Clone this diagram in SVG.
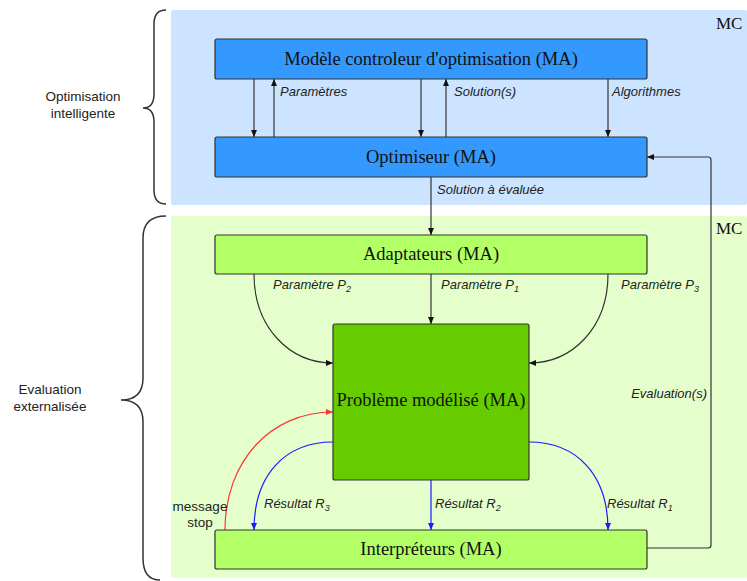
<svg xmlns="http://www.w3.org/2000/svg" width="747" height="581" viewBox="0 0 747 581">
<style>
.node{stroke:#333;stroke-width:1.2}
.nt{font-family:"Liberation Serif",serif;font-size:18.5px;fill:#111;text-anchor:middle}
.lbl{font-family:"Liberation Sans",Arial,sans-serif;font-size:13px;font-style:italic;fill:#222}
.side{font-family:"Liberation Sans",Arial,sans-serif;font-size:13.5px;fill:#222;text-anchor:middle}
.mc{font-family:"Liberation Serif",serif;font-size:17px;fill:#111}
.c{fill:none;stroke:#333;stroke-width:1.2}
.b{fill:none;stroke:#1a1aff;stroke-width:1.2}
.r{fill:none;stroke:#ff3333;stroke-width:1.2}
.brace{fill:none;stroke:#333;stroke-width:1.5}
</style>
<defs>
<marker id="ah" markerWidth="8" markerHeight="8" refX="7" refY="4" orient="auto" markerUnits="userSpaceOnUse"><path d="M0,1 L7,4 L0,7 z" fill="#111"/></marker>
<marker id="ahb" markerWidth="8" markerHeight="8" refX="7" refY="4" orient="auto" markerUnits="userSpaceOnUse"><path d="M0,1 L7,4 L0,7 z" fill="#1a1aff"/></marker>
<marker id="ahr" markerWidth="8" markerHeight="8" refX="7" refY="4" orient="auto" markerUnits="userSpaceOnUse"><path d="M0,1 L7,4 L0,7 z" fill="#ff3333"/></marker>
</defs>
<rect width="747" height="581" fill="#fff"/>
<g id="containers">
<rect x="171" y="10" width="576" height="195" rx="2" fill="#cce4ff"/>
<rect x="171" y="216" width="576" height="362" rx="2" fill="#e5ffcc"/>
<text class="mc" x="716" y="29">MC</text>
<text class="mc" x="716" y="234">MC</text>
</g>
<g id="braces">
<path class="brace" d="M166,10 Q154,10 154,24 L154,94 Q154,108 143,108 Q154,108 154,122 L154,190 Q154,204 166,204"/>
<path class="brace" d="M166,216 Q143,216 143,238 L143,378 Q143,400 121,400 Q143,400 143,422 L143,558 Q143,580 160,580"/>
<text class="side" x="83" y="101">Optimisation</text>
<text class="side" x="83" y="118">intelligente</text>
<text class="side" x="50" y="394">Evaluation</text>
<text class="side" x="50" y="411">externalisée</text>
</g>
<g id="connectors">
<path class="c" d="M254,79 L254,137" marker-end="url(#ah)"/>
<path class="c" d="M274,137 L274,79" marker-end="url(#ah)"/>
<path class="c" d="M421,79 L421,137" marker-end="url(#ah)"/>
<path class="c" d="M446,137 L446,79" marker-end="url(#ah)"/>
<path class="c" d="M608,79 L608,137" marker-end="url(#ah)"/>
<path class="c" d="M431,177 L431,235" marker-end="url(#ah)"/>
<path class="c" d="M647,548 L708,548 Q711,548 711,545 L711,160 Q711,157 708,157 L647,157" marker-end="url(#ah)"/>
<path class="c" d="M254,274 C254,328 290,363 333,363" marker-end="url(#ah)"/>
<path class="c" d="M431,274 L431,324" marker-end="url(#ah)"/>
<path class="c" d="M608,274 C608,328 572,363 529,363" marker-end="url(#ah)"/>
<path class="b" d="M333,442 C285,442 254,475 254,530" marker-end="url(#ahb)"/>
<path class="b" d="M431,480 L431,530" marker-end="url(#ahb)"/>
<path class="b" d="M529,442 C577,442 608,475 608,530" marker-end="url(#ahb)"/>
<path class="r" d="M225,530 C225,462 270,412 333,412" marker-end="url(#ahr)"/>
<text class="lbl" x="280" y="96">Paramètres</text>
<text class="lbl" x="454" y="96">Solution(s)</text>
<text class="lbl" x="612" y="96">Algorithmes</text>
<text class="lbl" x="437" y="194">Solution à évaluée</text>
<text class="lbl" x="273" y="289">Paramètre P<tspan font-size="9" dy="3">2</tspan></text>
<text class="lbl" x="441" y="289">Paramètre P<tspan font-size="9" dy="3">1</tspan></text>
<text class="lbl" x="621" y="289">Paramètre P<tspan font-size="9" dy="3">3</tspan></text>
<text class="lbl" x="707" y="398" text-anchor="end">Evaluation(s)</text>
<text class="lbl" x="264" y="508">Résultat R<tspan font-size="9" dy="3">3</tspan></text>
<text class="lbl" x="435" y="508">Résultat R<tspan font-size="9" dy="3">2</tspan></text>
<text class="lbl" x="607" y="508">Résultat R<tspan font-size="9" dy="3">1</tspan></text>
<text class="side" x="200" y="511">message</text>
<text class="side" x="200" y="527">stop</text>
</g>
<g id="modele">
<rect class="node" x="215" y="39" width="432" height="40" rx="2" fill="#3399ff"/>
<text class="nt" x="431" y="65">Modèle controleur d'optimisation (MA)</text>
</g>
<g id="optimiseur">
<rect class="node" x="215" y="137" width="432" height="40" rx="2" fill="#3399ff"/>
<text class="nt" x="431" y="163">Optimiseur (MA)</text>
</g>
<g id="adaptateurs">
<rect class="node" x="215" y="235" width="432" height="39" rx="2" fill="#b3ff66"/>
<text class="nt" x="431" y="260">Adaptateurs (MA)</text>
</g>
<g id="probleme">
<rect class="node" x="333" y="324" width="196" height="156" rx="2" fill="#66cc00"/>
<text class="nt" x="431" y="406">Problème modélisé (MA)</text>
</g>
<g id="interpreteurs">
<rect class="node" x="215" y="530" width="432" height="39" rx="2" fill="#b3ff66"/>
<text class="nt" x="431" y="555">Interpréteurs (MA)</text>
</g>
</svg>
